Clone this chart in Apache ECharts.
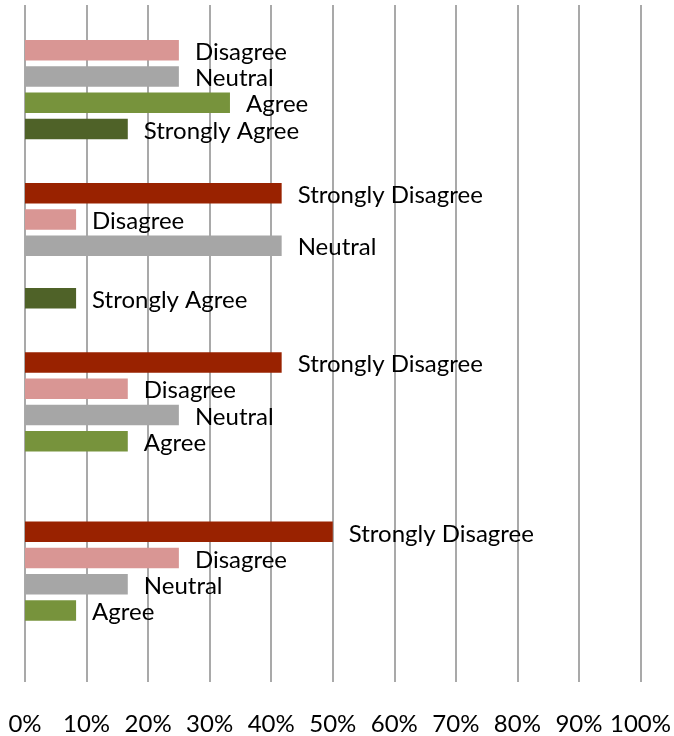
<!DOCTYPE html>
<html>
<head>
<meta charset="utf-8">
<script src="https://cdn.jsdelivr.net/npm/echarts@6/dist/echarts.min.js"></script>
<style>
  html, body { margin: 0; padding: 0; background: #fff; }
  #chart { width: 674px; height: 736px; }
</style>
</head>
<body>
<div id="chart"></div>
<script>
// groups, top to bottom
const categories = ['Item 1', 'Item 2', 'Item 3', 'Item 4'];

const stronglyDisagree = [null, 41.7, 41.7, 50];
const disagree = [25, 8.3, 16.7, 25];
const neutral = [25, 41.7, 25, 16.7];
const agree = [33.3, null, 16.7, 8.3];
const stronglyAgree = [16.7, 8.3, null, null];
const noAnswer = [null, null, null, null]; // empty sixth slot in the original

const xTicks = [0, 10, 20, 30, 40, 50, 60, 70, 80, 90, 100];

const font = 'Lato, "Open Sans", sans-serif';

const labelCfg = {
  show: true,
  position: 'right',
  distance: 16,
  offset: [0, 2],
  color: '#000',
  fontFamily: font,
  fontSize: 24,
  formatter: (p) => p.seriesName
};

function makeSeries(name, data, color) {
  return {
    name: name,
    type: 'bar',
    data: data,
    barWidth: 20.5,
    barGap: '28%',
    itemStyle: { color: color },
    label: labelCfg,
    silent: true
  };
}

const chart = echarts.init(document.getElementById('chart'));

chart.setOption({
  animation: false,
  grid: { left: 25, right: 33.5, top: 5, bottom: 54 },
  xAxis: {
    type: 'value',
    min: xTicks[0],
    max: xTicks[xTicks.length - 1],
    interval: 10,
    axisLine: { show: false },
    axisTick: { show: false },
    splitLine: { show: true, lineStyle: { color: '#8c8c8c', width: 1.5 } },
    axisLabel: {
      formatter: '{value}%',
      color: '#000',
      fontFamily: font,
      fontSize: 24,
      margin: 30
    }
  },
  yAxis: {
    type: 'category',
    inverse: true,
    data: categories,
    axisLine: { show: false },
    axisTick: { show: false },
    axisLabel: { show: false },
    splitLine: { show: false }
  },
  series: [
    makeSeries('Strongly Disagree', stronglyDisagree, '#992200'),
    makeSeries('Disagree', disagree, '#d99694'),
    makeSeries('Neutral', neutral, '#a6a6a6'),
    makeSeries('Agree', agree, '#77933c'),
    makeSeries('Strongly Agree', stronglyAgree, '#4f6228'),
    makeSeries('', noAnswer, '#cccccc')
  ]
});
</script>
</body>
</html>
